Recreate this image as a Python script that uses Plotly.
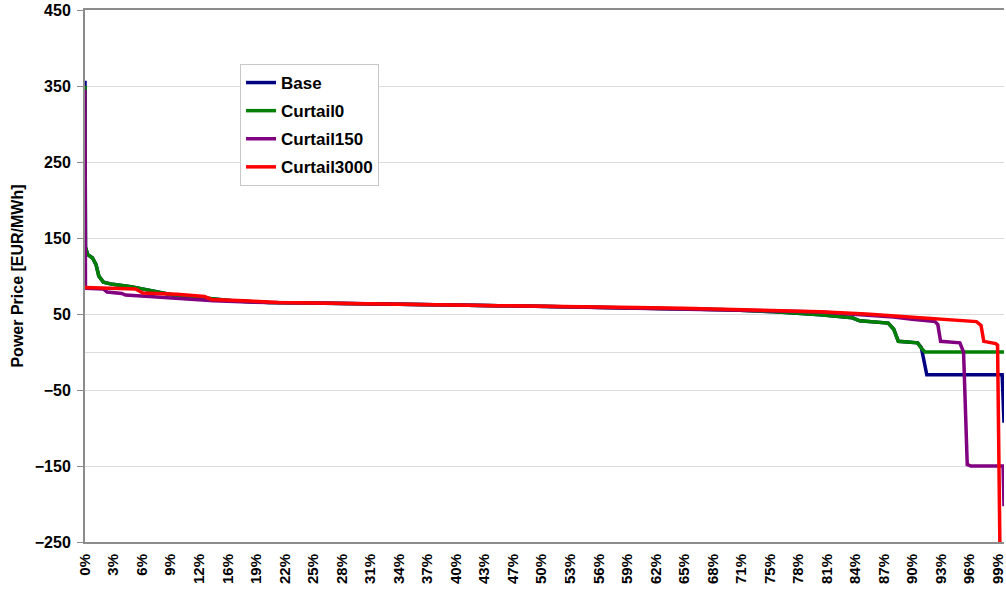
import plotly.graph_objects as go

# ---- data (duration curves, x in % of hours, y in EUR/MWh) ----
base_x = [0, 0.05, 0.3, 0.8, 1.2, 1.5, 2.0, 3.0, 5.0, 7.0, 8.0, 10, 13, 16, 20, 25, 30, 35, 40, 45, 50, 55, 60, 65, 70, 75, 80, 83.5, 84.3, 87.4, 88.0, 88.5, 90.6, 91.0, 91.6, 99.8, 100]
base_y = [357, 138, 128, 124, 115, 100, 92, 89, 86, 81, 78, 74, 71, 67.5, 65, 64.5, 64, 63, 62, 61, 60, 59, 58, 57, 55.5, 53, 49, 45, 41, 38, 30, 14, 12, 6, -30, -30, -93]

curtail0_x = [0, 0.05, 0.3, 0.8, 1.2, 1.5, 2.0, 3.0, 5.0, 7.0, 8.0, 10, 13, 16, 20, 25, 30, 35, 40, 45, 50, 55, 60, 65, 70, 75, 80, 83.5, 84.3, 87.4, 88.0, 88.5, 90.6, 91.0, 91.4, 100]
curtail0_y = [350, 138, 128, 124, 115, 100, 92, 89, 86, 81, 78, 74, 71, 67.5, 65, 64.5, 64, 63, 62, 61, 60, 59, 58, 57, 55.5, 53, 49, 45, 41, 38, 30, 14, 12, 5, 0, 0]

curtail150_x = [0, 0.05, 2.0, 2.4, 4.0, 4.4, 7.0, 10, 14, 17, 20, 25, 30, 35, 40, 45, 50, 55, 60, 65, 70, 75, 80, 85, 88, 90, 92.5, 92.8, 93.1, 95.2, 95.6, 96.0, 96.4, 99.9, 100]
curtail150_y = [345, 84, 83, 79, 77, 75, 73, 70.5, 67.5, 66, 65, 64.5, 64, 63, 62, 61, 60, 59, 58, 57, 55.5, 54, 52.5, 49, 46, 43, 40, 36, 14, 12, 0, -148, -150, -150, -203]

curtail3000_x = [0, 5.0, 5.5, 6.3, 10, 13.0, 13.8, 18, 21, 25, 30, 35, 40, 45, 50, 55, 60, 65, 70, 75, 80, 85, 87.5, 90, 92.7, 96.3, 97.0, 97.5, 97.8, 99.1, 99.3, 99.55]
curtail3000_y = [85, 84, 83, 77.6, 76, 73, 69, 67, 65, 64.5, 64, 63, 62, 61, 60.5, 59.5, 58.5, 57.5, 56, 54.5, 53, 50, 48, 45, 43.5, 41, 40, 35, 14, 11, 9, -250]

series_names = ["Base", "Curtail0", "Curtail150", "Curtail3000"]
series_colors = ["#000080", "#008000", "#800080", "#FF0000"]

# category axis: 8760 hours, one label every 272 hours
hours_total = 8760
label_every = 272
tick_labels = ["0%", "3%", "6%", "9%", "12%", "16%", "19%", "22%", "25%", "28%", "31%",
               "34%", "37%", "40%", "43%", "47%", "50%", "53%", "56%", "59%", "62%",
               "65%", "68%", "71%", "75%", "78%", "81%", "84%", "87%", "90%", "93%",
               "96%", "99%"]
tick_vals = [k * label_every / hours_total * 100 for k in range(len(tick_labels))]

y_ticks = [-250, -150, -50, 50, 150, 250, 350, 450]

FONT = "Liberation Sans, Arial, sans-serif"

fig = go.Figure()
all_x = [base_x, curtail0_x, curtail150_x, curtail3000_x]
all_y = [base_y, curtail0_y, curtail150_y, curtail3000_y]
for name, color, xs, ys in zip(series_names, series_colors, all_x, all_y):
    fig.add_trace(go.Scatter(
        x=xs, y=ys, mode="lines", name=name, legendgroup=name,
        line=dict(color=color, width=3.5),
    ))

fig.update_layout(
    width=1006, height=592,
    margin=dict(l=85, r=2, t=10, b=50),
    paper_bgcolor="white", plot_bgcolor="white",
    font=dict(family=FONT, color="black"),
    showlegend=True,
    legend=dict(
        x=0.1687, y=0.8985, xanchor="left", yanchor="top",
        bgcolor="white", bordercolor="#c8c8c8", borderwidth=1,
        font=dict(family=FONT, size=17, color="black", weight="bold"),
        tracegroupgap=3,
    ),
    xaxis=dict(
        range=[0, 100], tickmode="array", tickvals=tick_vals, ticktext=tick_labels,
        tickangle=-90, tickfont=dict(family=FONT, size=15, color="black", weight="bold"),
        showgrid=False, zeroline=False, showline=True, linecolor="#8c8c8c", linewidth=2,
        mirror=True, ticks="", automargin=False, ticklabelstandoff=4,
        ticklabeloverflow="allow",
    ),
    yaxis=dict(
        range=[-250, 450], tickmode="array", tickvals=y_ticks,
        tickfont=dict(family=FONT, size=16, color="black", weight="bold"),
        showgrid=True, gridcolor="#dcdcdc", gridwidth=1,
        zeroline=True, zerolinecolor="#dcdcdc", zerolinewidth=1,
        showline=True, linecolor="#8c8c8c", linewidth=2,
        ticks="outside", ticklen=6, tickcolor="#8c8c8c", ticklabelstandoff=3,
        automargin=False, ticklabeloverflow="allow",
        title=dict(text="Power Price [EUR/MWh]", standoff=7,
                   font=dict(family=FONT, size=16, color="black", weight="bold")),
    ),
)

fig.write_html("out.html", config={"displayModeBar": False},
               post_script="document.body.style.margin='0px';")
